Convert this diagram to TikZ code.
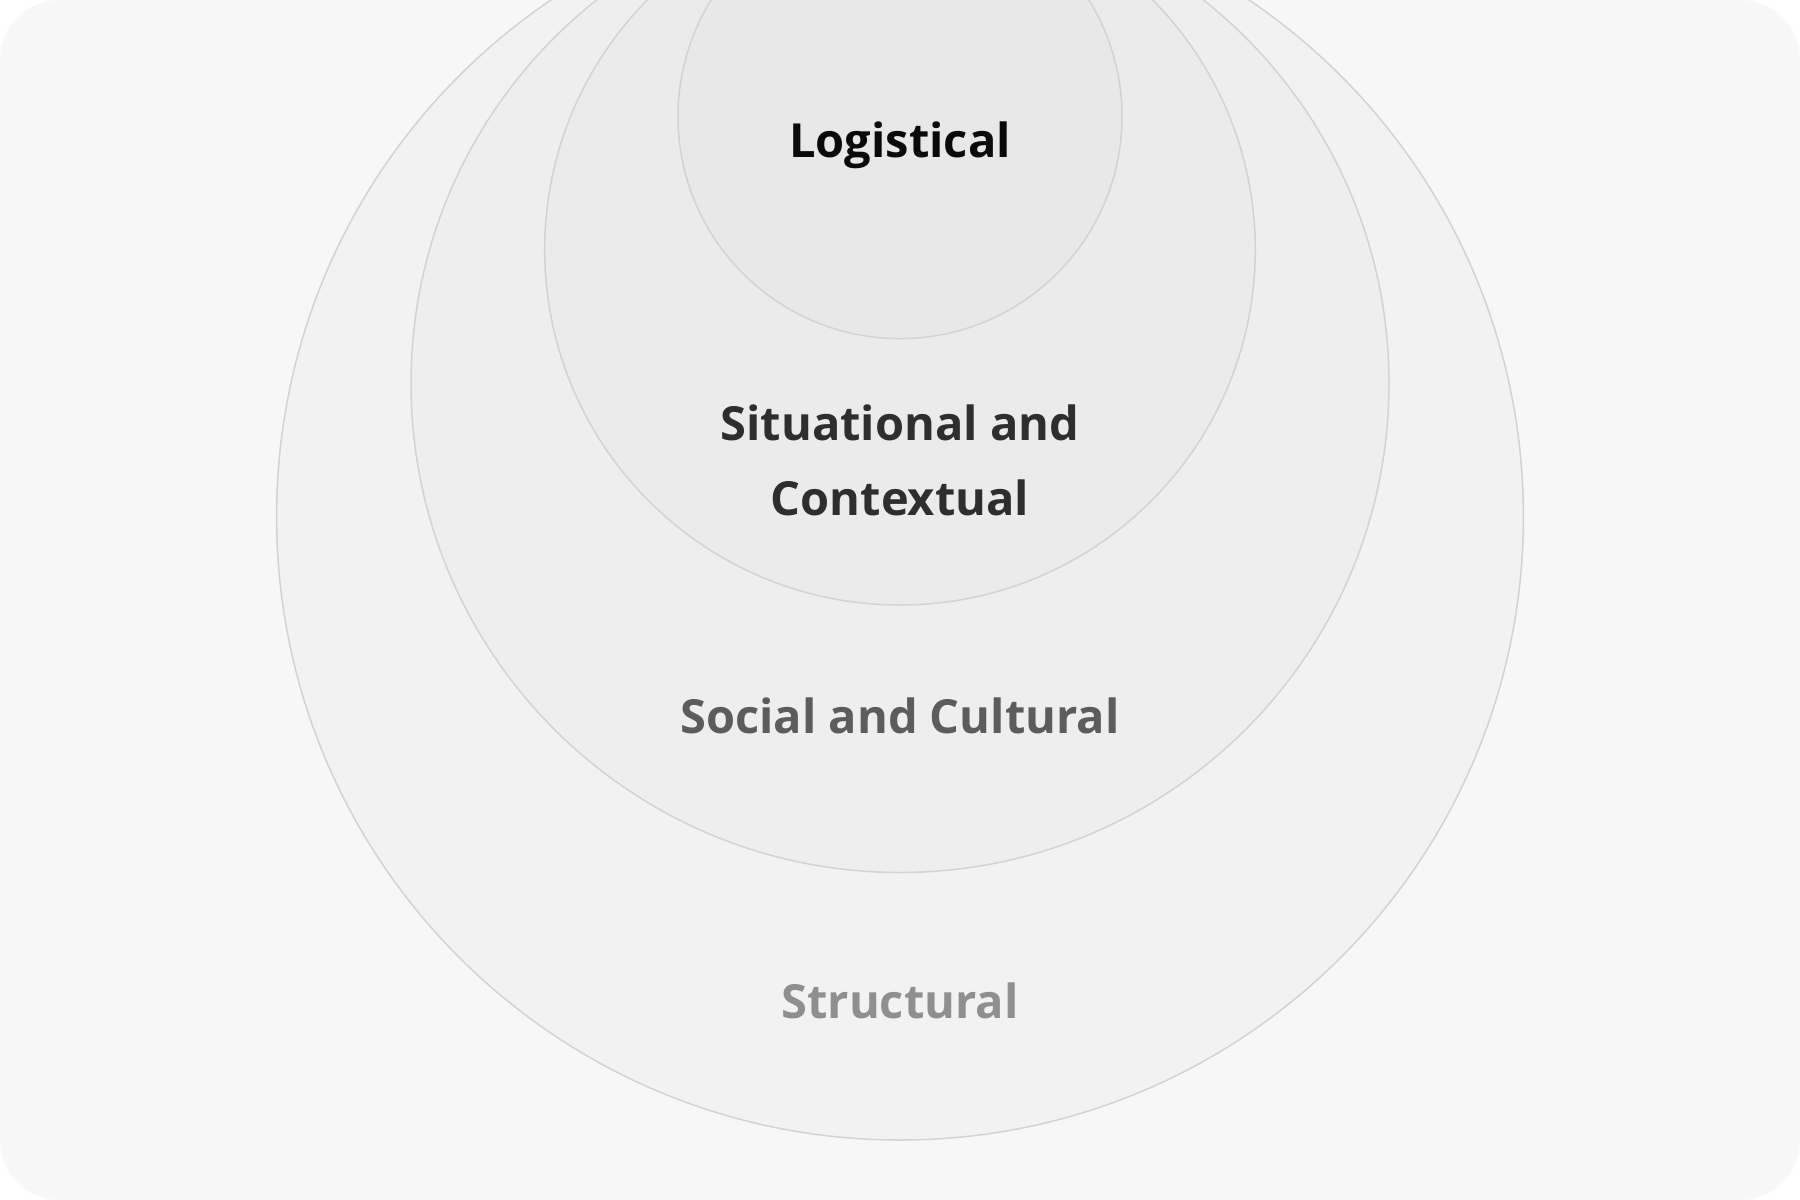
\documentclass[tikz,border=0pt]{standalone}
\usepackage{fontspec}
\setmainfont{Open Sans}
\definecolor{bgc}{HTML}{F7F7F7}
\definecolor{ring}{HTML}{D3D3D3}
\definecolor{f1}{HTML}{F2F2F2}
\definecolor{f2}{HTML}{EEEEEE}
\definecolor{f3}{HTML}{EBEBEB}
\definecolor{f4}{HTML}{E8E8E8}
\definecolor{t1}{HTML}{0A0A0A}
\definecolor{t2}{HTML}{2E2E2E}
\definecolor{t3}{HTML}{5C5C5C}
\definecolor{t4}{HTML}{8F8F8F}
\tikzset{
  disc/.style={draw=ring, line width=1.5pt},
  lbl/.style={anchor=base, inner sep=0pt, font=\fontsize{47}{55}\selectfont\bfseries}
}
\begin{document}
\begin{tikzpicture}[x=1pt,y=-1pt]
\useasboundingbox (0,0) rectangle (1800,1200);
\fill[white] (0,0) rectangle (1800,1200);
\fill[bgc, rounded corners=60pt] (0,0) rectangle (1800,1200);
\begin{scope}
\clip (0,0) rectangle (1800,1200);
\path[disc, fill=f1] (900,516.6) circle[radius=623.4];
\path[disc, fill=f2] (900,383.5) circle[radius=489];
\path[disc, fill=f3] (900,249.7) circle[radius=355.3];
\path[disc, fill=f4] (900,116.6) circle[radius=222];
\end{scope}
\node[lbl, text=t1] (log) at (900,157) {Logistical};
\node[lbl, text=t2] (sit) at (900,440) {Situational and};
\node[lbl, text=t2] (con) at (900,515) {Contextual};
\node[lbl, text=t3] (soc) at (900,733) {Social and Cultural};
\node[lbl, text=t4] (str) at (900,1018) {Structural};
\end{tikzpicture}
\end{document}
